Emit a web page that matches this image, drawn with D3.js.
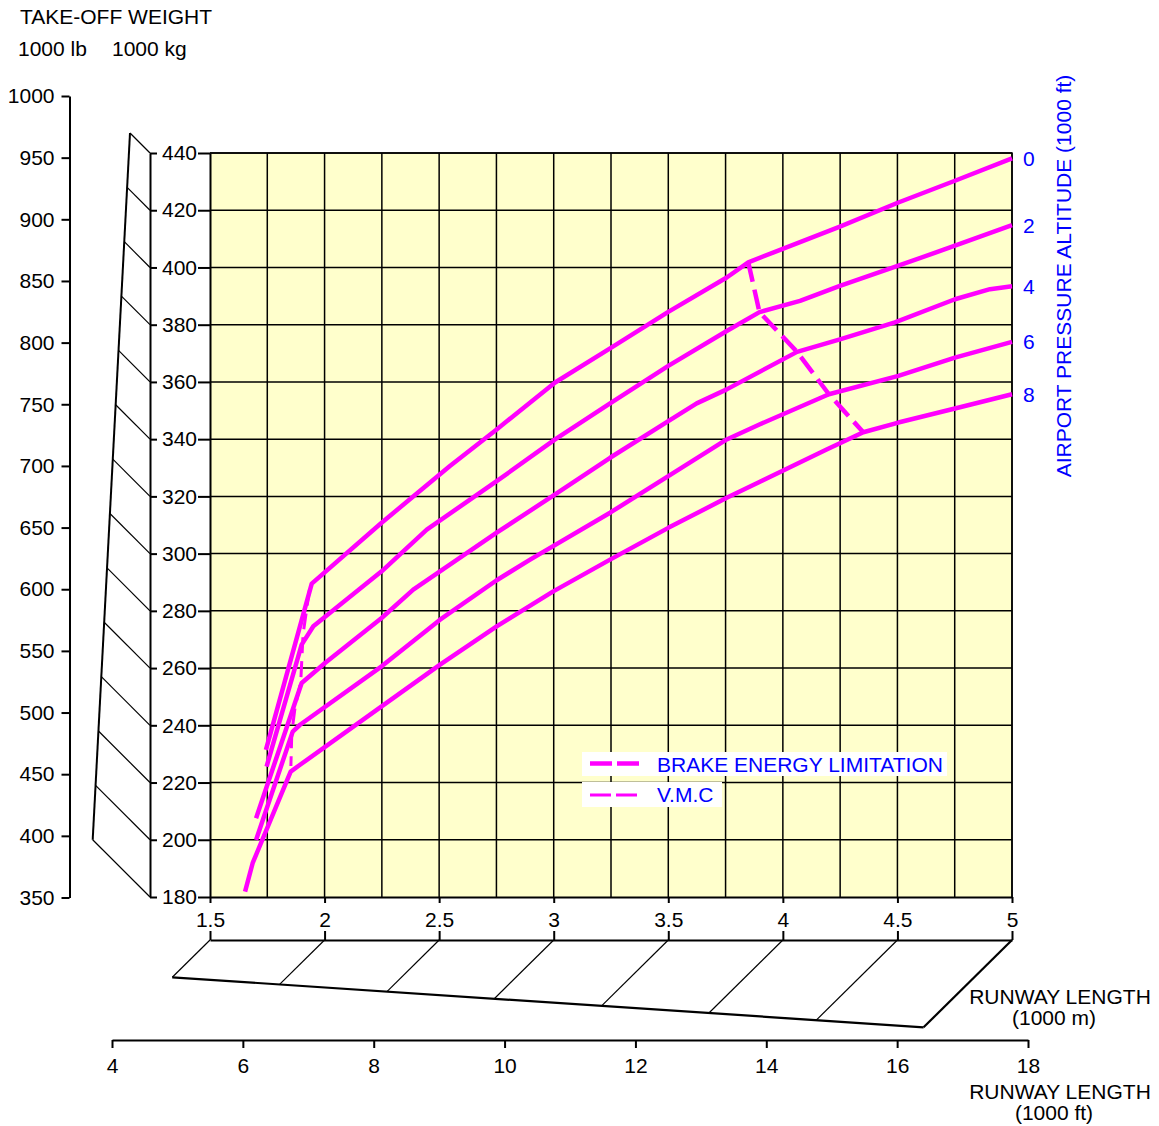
<!DOCTYPE html>
<html>
<head>
<meta charset="utf-8">
<script src="https://cdn.jsdelivr.net/npm/d3@7"></script>
<style>
  body { margin: 0; background: #fff; }
  svg text { font-family: "Liberation Sans", Arial, sans-serif; font-size: 21px; }
  .axis path, .axis line { stroke: #000; stroke-width: 2; }
  .axis text { fill: #000; font-size: 21px; }
  .grid line { stroke: #000; stroke-width: 1.5; }
  .curve { fill: none; stroke: #ff00ff; stroke-width: 4.5; stroke-linejoin: round; }
  .blue { fill: #0000ff; }
</style>
</head>
<body>
<div id="chart"></div>
<script>
"use strict";

// tick values
var lbTicks = [350, 400, 450, 500, 550, 600, 650, 700, 750, 800, 850, 900, 950, 1000];
var kgTicks = [180, 200, 220, 240, 260, 280, 300, 320, 340, 360, 380, 400, 420, 440];
var kmTicks = [1.5, 2, 2.5, 3, 3.5, 4, 4.5, 5];
var kmGrid = [1.75, 2, 2.25, 2.5, 2.75, 3, 3.25, 3.5, 3.75, 4, 4.25, 4.5, 4.75, 5];
var ftTicks = [4, 6, 8, 10, 12, 14, 16, 18];

// curves: [runway length 1000 m, take-off weight 1000 kg]
var altitudes = ["0", "2", "4", "6", "8"];
var alt0 = [[1.744, 231.4], [1.944, 289.5], [2.249, 310.8], [2.547, 330.6], [2.751, 343.4],
  [3.006, 359.8], [3.246, 371.7], [3.5, 384.5], [3.755, 396.5], [3.849, 401.8],
  [4.249, 414.3], [4.504, 422.7], [4.751, 430.3], [5.0, 438.1]];
var alt2 = [[1.747, 225.6], [1.900, 268.2], [1.951, 274.6], [2.249, 293.8], [2.446, 308.4],
  [2.751, 325.3], [3.006, 339.9], [3.246, 352.5], [3.5, 365.6], [3.755, 377.8],
  [3.898, 384.4], [4.075, 388.3], [4.249, 393.6], [4.504, 400.6], [4.751, 407.6], [5.0, 414.8]];
var alt4 = [[1.701, 207.5], [1.900, 254.8], [2.002, 261.8], [2.249, 277.5], [2.387, 287.4],
  [2.751, 307.3], [3.006, 320.7], [3.246, 333.5], [3.5, 346.3], [3.624, 352.5],
  [3.755, 357.4], [4.062, 370.5], [4.249, 374.9], [4.489, 380.8], [4.751, 388.9],
  [4.904, 392.4], [5.0, 393.4]];
var alt6 = [[1.701, 199.9], [1.861, 237.8], [1.893, 240.2], [2.249, 260.6], [2.504, 276.9],
  [2.751, 290.7], [2.897, 297.9], [3.246, 314.3], [3.5, 327.1], [3.755, 339.9],
  [3.900, 345.2], [4.201, 355.7], [4.504, 362.1], [4.751, 368.5], [5.0, 374.0]];
var alt8 = [[1.653, 181.9], [1.686, 191.8], [1.852, 223.8], [1.893, 226.2], [2.249, 246.6],
  [2.504, 261.2], [2.751, 274.6], [2.998, 286.8], [3.246, 297.9], [3.5, 309.0],
  [3.755, 319.5], [3.900, 325.1], [4.191, 336.4], [4.351, 342.4], [4.504, 345.8],
  [4.751, 350.7], [5.0, 355.7]];
var brakeEnergy = [[3.849, 401.8], [3.898, 384.4], [4.062, 370.5], [4.201, 355.7], [4.351, 342.4]];
var vmc = [[1.934, 287.4], [1.906, 271.7], [1.896, 255.2], [1.871, 246.1], [1.857, 237.4], [1.853, 225.8]];

var legendLabels = ["BRAKE ENERGY LIMITATION", "V.M.C"];

function chart(w, h) {
  var curves = [alt0, alt2, alt4, alt6, alt8];

  //Scales
  var xScale = d3.scaleLinear().domain([1.5, 5]).range([210, 1012]);
  var yScale = d3.scaleLinear().domain([180, 440]).range([897, 153]);
  var lbScale = d3.scaleLinear().domain([350, 1000]).range([897.5, 96]);
  var ftScale = d3.scaleLinear().domain([4, 18]).range([112, 1028]);
  // perspective helpers
  var slantX = d3.scaleLinear().domain([180, 440]).range([92.7, 130]);
  var slantY = d3.scaleLinear().domain([1.5, 5]).range([977.3, 1027.3]);
  var KG_TO_LB = 2.20462, M_TO_FT = 3.28084;

  var svg = d3.select("#chart").append("svg")
    .attr("width", w)
    .attr("height", h);

  //plot background
  svg.append("rect")
    .attr("x", xScale(1.5)).attr("y", yScale(440))
    .attr("width", xScale(5) - xScale(1.5))
    .attr("height", yScale(180) - yScale(440))
    .attr("fill", "#ffffcc");

  //grid
  var grid = svg.append("g").attr("class", "grid");
  grid.selectAll(".v").data(kmGrid).enter().append("line")
    .attr("x1", function (d) { return xScale(d); })
    .attr("x2", function (d) { return xScale(d); })
    .attr("y1", yScale(180)).attr("y2", yScale(440));
  grid.selectAll(".h").data(kgTicks.slice(1)).enter().append("line")
    .attr("x1", xScale(1.5)).attr("x2", xScale(5))
    .attr("y1", function (d) { return yScale(d); })
    .attr("y2", function (d) { return yScale(d); });

  //plot axes
  svg.append("g").attr("class", "axis")
    .attr("transform", "translate(0," + yScale(180) + ")")
    .call(d3.axisBottom(xScale).tickValues(kmTicks).tickSize(6).tickPadding(9).tickSizeOuter(0)
      .tickFormat(d3.format("")));
  svg.append("g").attr("class", "axis")
    .attr("transform", "translate(" + xScale(1.5) + ",0)")
    .call(d3.axisLeft(yScale).tickValues(kgTicks).tickSize(12).tickPadding(1).tickSizeOuter(0)
      .tickFormat(d3.format("d")));

  //kg axis (left of the plot labels)
  svg.append("g").attr("class", "axis")
    .attr("transform", "translate(150,0)")
    .call(d3.axisRight(yScale).tickValues(kgTicks).tickSize(7).tickSizeOuter(0).tickFormat(""));

  //lb axis
  svg.append("g").attr("class", "axis")
    .attr("transform", "translate(69.5,0)")
    .call(d3.axisLeft(lbScale).tickValues(lbTicks).tickSize(8).tickPadding(7).tickSizeOuter(0)
      .tickFormat(d3.format("d")));

  //slanted conversion line lb <-> kg
  svg.append("line")
    .attr("x1", slantX(180)).attr("y1", lbScale(180 * KG_TO_LB))
    .attr("x2", slantX(440)).attr("y2", lbScale(440 * KG_TO_LB))
    .attr("stroke", "#000").attr("stroke-width", 2);
  svg.selectAll(".kgConn").data(kgTicks).enter().append("line")
    .attr("x1", function (d) { return slantX(d); })
    .attr("y1", function (d) { return lbScale(d * KG_TO_LB); })
    .attr("x2", 150)
    .attr("y2", function (d) { return yScale(d); })
    .attr("stroke", "#000").attr("stroke-width", 1.2);

  //second km axis + perspective to ft axis
  svg.append("g").attr("class", "axis")
    .attr("transform", "translate(0,940)")
    .call(d3.axisTop(xScale).tickValues(kmTicks).tickSize(9).tickSizeOuter(0).tickFormat(""));
  svg.selectAll(".kmConn").data(kmTicks).enter().append("line")
    .attr("x1", function (d) { return xScale(d); })
    .attr("y1", 940)
    .attr("x2", function (d) { return ftScale(d * M_TO_FT); })
    .attr("y2", function (d) { return slantY(d); })
    .attr("stroke", "#000")
    .attr("stroke-width", function (d) { return d === 5 ? 2.2 : 1.2; });
  svg.append("line")
    .attr("x1", ftScale(1.5 * M_TO_FT)).attr("y1", slantY(1.5))
    .attr("x2", ftScale(5 * M_TO_FT)).attr("y2", slantY(5))
    .attr("stroke", "#000").attr("stroke-width", 2.2);

  //ft axis
  svg.append("g").attr("class", "axis")
    .attr("transform", "translate(0,1040)")
    .call(d3.axisBottom(ftScale).tickValues(ftTicks).tickSize(8).tickPadding(10).tickSizeOuter(0));

  //plot border (top + right)
  svg.append("path")
    .attr("d", "M" + xScale(1.5) + "," + yScale(440) + "H" + xScale(5) + "V" + yScale(180))
    .attr("fill", "none").attr("stroke", "#000").attr("stroke-width", 1.5);

  //curves
  var line = d3.line()
    .x(function (d) { return xScale(d[0]); })
    .y(function (d) { return yScale(d[1]); });

  svg.selectAll(".curve").data(curves).enter().append("path")
    .attr("class", "curve")
    .attr("d", line);
  svg.append("path").datum(brakeEnergy)
    .attr("class", "curve")
    .attr("stroke-dasharray", "20,8")
    .attr("d", line);
  svg.append("path").datum(vmc)
    .attr("fill", "none").attr("stroke", "#ff00ff").attr("stroke-width", 3)
    .attr("stroke-dasharray", "16,8")
    .attr("d", line);

  //altitude labels
  svg.selectAll(".altLabel").data(curves).enter().append("text")
    .attr("class", "blue")
    .attr("x", 1023)
    .attr("y", function (d) { return yScale(d[d.length - 1][1]); })
    .attr("dy", "0.36em")
    .text(function (d, i) { return altitudes[i]; });
  svg.append("text")
    .attr("class", "blue")
    .attr("transform", "translate(1071,276) rotate(-90)")
    .attr("text-anchor", "middle")
    .text("AIRPORT PRESSURE ALTITUDE (1000 ft)");

  //legend
  var legend = svg.append("g");
  legend.append("rect").attr("x", 582).attr("y", 752).attr("width", 365).attr("height", 24).attr("fill", "#fff");
  legend.append("rect").attr("x", 582).attr("y", 782).attr("width", 140).attr("height", 25).attr("fill", "#fff");
  legend.append("line").attr("x1", 590).attr("x2", 640).attr("y1", 763.5).attr("y2", 763.5)
    .attr("stroke", "#ff00ff").attr("stroke-width", 4.5).attr("stroke-dasharray", "22,5");
  legend.append("line").attr("x1", 590).attr("x2", 638).attr("y1", 795).attr("y2", 795)
    .attr("stroke", "#ff00ff").attr("stroke-width", 3).attr("stroke-dasharray", "21,5");
  legend.selectAll(".legText").data(legendLabels).enter().append("text")
    .attr("class", "blue")
    .attr("x", 657)
    .attr("y", function (d, i) { return 771.5 + i * 30.5; })
    .text(function (d) { return d; });

  //titles
  svg.append("text").attr("x", 20).attr("y", 24).text("TAKE-OFF WEIGHT");
  svg.append("text").attr("x", 18).attr("y", 56).text("1000 lb");
  svg.append("text").attr("x", 112).attr("y", 56).text("1000 kg");
  svg.append("text").attr("x", 1060).attr("y", 1004).attr("text-anchor", "middle").text("RUNWAY LENGTH");
  svg.append("text").attr("x", 1054).attr("y", 1025).attr("text-anchor", "middle").text("(1000 m)");
  svg.append("text").attr("x", 1060).attr("y", 1099).attr("text-anchor", "middle").text("RUNWAY LENGTH");
  svg.append("text").attr("x", 1054).attr("y", 1120).attr("text-anchor", "middle").text("(1000 ft)");
}

function init() {
  chart(1159, 1126);
}

window.onload = init;
</script>
</body>
</html>
